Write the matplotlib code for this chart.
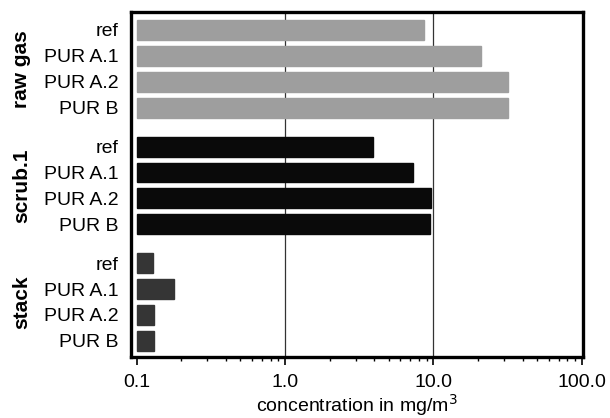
import numpy as np
import matplotlib.pyplot as plt
import matplotlib.transforms as mtransforms

plt.rcParams['font.family'] = ['Liberation Sans', 'DejaVu Sans']

# data (mg/m3)
groups = ["raw gas", "scrub.1", "stack"]
samples = ["ref", "PUR A.1", "PUR A.2", "PUR B"]
raw_gas = [8.7, 21.0, 32.0, 32.0]
scrub1 = [3.9, 7.3, 9.6, 9.5]
stack = [0.13, 0.18, 0.132, 0.132]
group_colors = ["#9e9e9e", "#0a0a0a", "#353535"]
xticks = [0.1, 1.0, 10.0, 100.0]
xtick_labels = ["0.1", "1.0", "10.0", "100.0"]

fig = plt.figure(figsize=(6.1, 4.18), dpi=100)
ax = fig.add_axes([0.215, 0.146, 0.741, 0.825])

base = 0.1
ypos = []
ylabels = []
for g, (vals, col) in enumerate(zip([raw_gas, scrub1, stack], group_colors)):
    pos = np.arange(len(vals)) + g * 4.5
    ax.barh(pos, np.array(vals) - base, left=base, height=0.77,
            color=col, edgecolor=col, zorder=3)
    ypos.extend(pos)
    ylabels.extend(samples)

ax.set_xscale("log")
ax.set_xlim(0.092, 102)
ax.set_ylim(12.62, -0.69)

ax.set_yticks(ypos)
ax.set_yticklabels(ylabels, fontsize=14)
ax.tick_params(axis="y", length=0, pad=9)

ax.set_xticks(xticks)
ax.set_xticklabels(xtick_labels, fontsize=14)
ax.tick_params(axis="x", which="major", direction="out", length=6, width=1.2, pad=6)
ax.tick_params(axis="x", which="minor", direction="out", length=3, width=1)

for v in [1.0, 10.0]:
    ax.axvline(v, color="#333333", lw=0.9, zorder=1)

for s in ax.spines.values():
    s.set_linewidth(2.4)

trans = mtransforms.blended_transform_factory(ax.transAxes, ax.transData)
for g, name in enumerate(groups):
    ax.text(-0.242, g * 4.5 + 1.5, name, rotation=90, transform=trans,
            ha="center", va="center", fontsize=15, fontweight="bold")

ax.set_xlabel("concentration in mg/m$^3$", fontsize=14, labelpad=1)

fig.savefig("out.png", dpi=100)
